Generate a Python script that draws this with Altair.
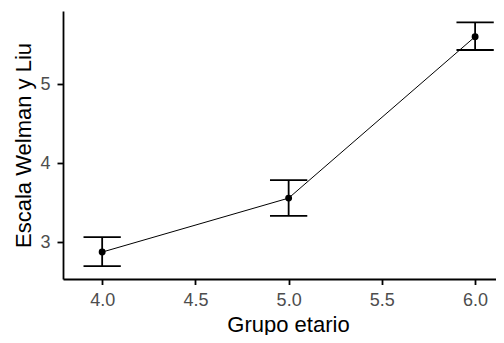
import altair as alt
import pandas as pd

grupo = [4.0, 5.0, 6.0]
media = [2.873, 3.557, 5.603]
inferior = [2.696, 3.333, 5.434]
superior = [3.063, 3.785, 5.785]
x_ticks = [4.0, 4.5, 5.0, 5.5, 6.0]
y_ticks = [3, 4, 5]
cap_half = 0.1

df = pd.DataFrame({"grupo": grupo, "media": media, "inf": inferior, "sup": superior})

xs = alt.Scale(domain=[3.79, 6.112], nice=False, zero=False)
ys = alt.Scale(domain=[2.532, 5.928], nice=False, zero=False)

x_axis = alt.Axis(values=x_ticks, format=".1f", title="Grupo etario", grid=False,
                  tickSize=5.5, labelPadding=7, titleX=225, titleY=45, titleBaseline="middle")
y_axis = alt.Axis(values=y_ticks, format="d", title="Escala Welman y Liu", grid=False,
                  tickSize=6, labelPadding=7, titleX=-40, titleBaseline="middle")

base = alt.Chart(df)

line = base.mark_line(color="black", strokeWidth=1).encode(
    x=alt.X("grupo:Q", scale=xs, axis=x_axis),
    y=alt.Y("media:Q", scale=ys, axis=y_axis),
)

vbar = base.mark_rule(color="black", strokeWidth=1.8).encode(
    x="grupo:Q", y="inf:Q", y2="sup:Q"
)

caps = base.transform_calculate(
    x1=f"datum.grupo - {cap_half}", x2=f"datum.grupo + {cap_half}"
)
cap_lo = caps.mark_rule(color="black", strokeWidth=1.8).encode(
    x="x1:Q", x2="x2:Q", y="inf:Q"
)
cap_hi = caps.mark_rule(color="black", strokeWidth=1.8).encode(
    x="x1:Q", x2="x2:Q", y="sup:Q"
)

pts = base.mark_point(filled=True, color="black", size=48, opacity=1).encode(
    x="grupo:Q", y="media:Q"
)

chart = alt.layer(line, vbar, cap_lo, cap_hi, pts).properties(
    width=433, height=268,
    autosize=alt.AutoSizeParams(type="none"),
    padding={"left": 55, "top": 3, "right": 0, "bottom": 56},
).configure_view(stroke=None).configure_axis(
    domainColor="black", domainWidth=1.8, tickColor="black", tickWidth=1.8,
    labelFont="Liberation Sans", labelFontSize=18, labelColor="#4D4D4D",
    titleFont="Liberation Sans", titleFontSize=22, titleColor="black", titleFontWeight="normal",
)

chart.save("out.html", embed_options={"renderer": "svg", "actions": False})
